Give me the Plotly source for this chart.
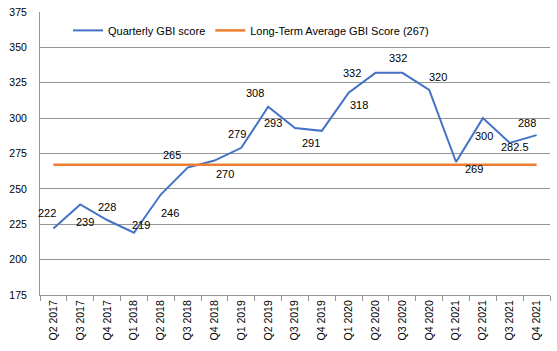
import plotly.graph_objects as go

quarters = ["Q2 2017", "Q3 2017", "Q4 2017", "Q1 2018", "Q2 2018", "Q3 2018", "Q4 2018",
            "Q1 2019", "Q2 2019", "Q3 2019", "Q4 2019", "Q1 2020", "Q2 2020", "Q3 2020",
            "Q4 2020", "Q1 2021", "Q2 2021", "Q3 2021", "Q4 2021"]
gbi_score = [222, 239, 228, 219, 246, 265, 270, 279, 308, 293, 291, 318, 332, 332, 320, 269, 300, 282.5, 288]
long_term_avg = 267
y_ticks = [175, 200, 225, 250, 275, 300, 325, 350, 375]

# label offsets in pixels (style only)
label_dx = [-6, 5, 0, 7, 9, -16, 11, -4, -13, -22, -11, 10, -24, -4, 9, 18, 1, 5, -10]
label_dy = [-16, 18, -13, -8, 18, -13, 13, -14, -14, -5, 12, 12, 0, -15, -13, 7, 18, 4, -12]

FONT = "Liberation Sans, Arial, sans-serif"
fig = go.Figure()
fig.add_trace(go.Scatter(x=quarters, y=gbi_score, mode="lines", name="Quarterly GBI score",
                         line=dict(color="#4472C4", width=2)))
fig.add_trace(go.Scatter(x=quarters, y=[long_term_avg] * len(quarters), mode="lines",
                         name="Long-Term Average GBI Score (%d)" % long_term_avg,
                         line=dict(color="#ED7D31", width=2.5)))

for q, v, dx, dy in zip(quarters, gbi_score, label_dx, label_dy):
    fig.add_annotation(x=q, y=v, text=str(v), showarrow=False, xshift=dx, yshift=-dy,
                       font=dict(family=FONT, size=11, color="#000000"))

fig.update_layout(
    width=557, height=351,
    margin=dict(l=40, r=7, t=12, b=56),
    plot_bgcolor="white", paper_bgcolor="white",
    font=dict(family=FONT, size=10.5, color="#000000"),
    showlegend=True,
    legend=dict(orientation="h", x=0.055, y=0.935, xanchor="left", yanchor="middle",
                font=dict(family=FONT, size=11, color="#000000"), bgcolor="rgba(0,0,0,0)",
                itemwidth=30),
    xaxis=dict(type="category", range=[-0.5, len(quarters) - 0.5], tickangle=-90,
               tickson="boundaries", ticks="outside", ticklen=5, tickcolor="#959595",
               showline=True, linecolor="#959595", linewidth=1, showgrid=False,
               tickfont=dict(family=FONT, size=10.5, color="#000000")),
    yaxis=dict(range=[175, 375], tickvals=y_ticks, showgrid=True, gridcolor="#959595",
               gridwidth=1, showline=True, linecolor="#959595", zeroline=False,
               ticks="", ticklabelstandoff=10,
               tickfont=dict(family=FONT, size=10.5, color="#000000")),
)
fig.write_html("out.html")
